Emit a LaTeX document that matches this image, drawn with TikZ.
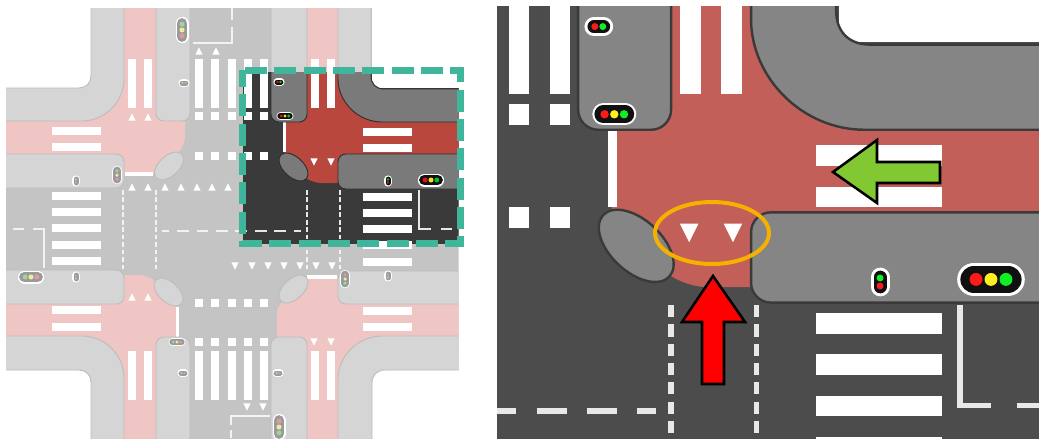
\documentclass[tikz,border=0pt]{standalone}
\usepackage{xcolor}
\usepackage{tikz}
\definecolor{figTeal}{HTML}{3FB59B}
\definecolor{figAmber}{HTML}{F5B000}
\definecolor{figLeaf}{HTML}{82C832}
\definecolor{figArrowRed}{HTML}{FF0000}

% one signal head with three lights: x, y, rotation, size, first colour, last colour
\newcommand{\biglamp}[6]{%
  \begin{scope}[shift={(#1,#2)},rotate=#3,scale=#4]
    \draw[line cap=round, white, line width=#4*\sc*9.75pt] (-6.6,0) -- (6.6,0);
    \draw[line cap=round, lampCol, line width=#4*\sc*7.9pt] (-6.6,0) -- (6.6,0);
    \fill[#5] (-5.8,0) circle (2.5);
    \fill[lampYel] (0,0) circle (2.5);
    \fill[#6] (5.8,0) circle (2.5);
  \end{scope}}
% one signal head with two lights: x, y, rotation, first colour, last colour
\newcommand{\smalllamp}[5]{%
  \begin{scope}[shift={(#1,#2)},rotate=#3]
    \draw[line cap=round, white, line width=\sc*5.5pt] (-1.9,0) -- (1.9,0);
    \draw[line cap=round, lampCol, line width=\sc*3.75pt] (-1.9,0) -- (1.9,0);
    \fill[#4] (-1.55,0) circle (1.35);
    \fill[#5] (1.55,0) circle (1.35);
  \end{scope}}

% the whole crossing, in pixels of the left panel
\newcommand{\junction}{%
  % === Asphalt ===
  \fill[roadCol] (91,-20) rectangle (372,460);
  \fill[roadCol] (-20,88) rectangle (480,370);

  % === Red surface, one piece per corner ===
  \fill[redCol] (110,-20) -- (156,-20) -- (156,100) -- (170,100) -- (170,115) -- (185,115) -- (185,135)
    .. controls (185,148) and (176,156) .. (166,165) -- (153,174) -- (115,174) -- (115,154) -- (-20,154)
    -- (-20,110) -- (90,105) -- (110,85) -- cycle;
  \fill[redCol] (307,-20) -- (352,-20) -- (352,85) -- (372,105) -- (480,110) -- (480,154)
    -- (350,154) -- (350,183) -- (322,183) .. controls (314,183) and (308,180) .. (300,174)
    -- (284,155) -- (284,108) -- (307,108) -- cycle;
  \fill[redCol] (110,275) -- (138,275) .. controls (146,275) and (151,278) .. (157,283) -- (177,306)
    -- (177,350) -- (156,350) -- (156,460) -- (110,460) -- (110,372) -- (90,352) -- (-20,350)
    -- (-20,304) -- (110,304) -- cycle;
  \fill[redCol] (307,277) -- (350,277) -- (350,304) -- (480,304) -- (480,350) -- (372,352) -- (352,372)
    -- (352,460) -- (307,460) -- (307,350) -- (295,350) -- (277,337) -- (277,310)
    -- (285,296) -- cycle;

  % === Markings ===
  \foreach \yy in {127,143,192,208,224,241,257,306,323} \fill[paint] (52,\yy) rectangle (101,\yy+8);
  \foreach \yy in {128,144,193,209,225,241,258,307,323} \fill[paint] (363,\yy) rectangle (412,\yy+8);
  \foreach \xx in {128,144,195,211,228,244,260,310.5,326.5} \fill[paint] (\xx,59) rectangle (\xx+8,108);
  \foreach \xx in {128,144,195,211,228,244,260,311,327} \fill[paint] (\xx,351) rectangle (\xx+8,400);
  \foreach \xx in {195,211,228,244,260} {
    \foreach \yy in {112,152,299,338} \fill[paint] (\xx,\yy) rectangle (\xx+8,\yy+8);
  }
  % give-way triangles
  \foreach \xx/\yy in {132/117,148/117,199/51,216/51,132/297,148/297,132/187,148/187,165/187,181/187,197/187,212/187,228/187}
    \fill[paint] (\xx-3.6,\yy+3.6) -- (\xx+3.6,\yy+3.6) -- (\xx,\yy-3.6) -- cycle;
  \foreach \xx/\yy in {314/162,331/162,314/342,331/342,247/407,263/407,235/266,252/266,268/266,284/266,300/266,316/266,332/266}
    \fill[paint] (\xx-3.6,\yy-3.6) -- (\xx+3.6,\yy-3.6) -- (\xx,\yy+3.6) -- cycle;
  % lane lines
  \foreach \xx in {123,156,307,340} \draw[lane, dash pattern=on \sc*3.5pt off \sc*2.1pt] (\xx,190) -- (\xx,270);
  \draw[lane, dash pattern=on \sc*8.7pt off \sc*5.9pt, dash phase=\sc*3.3pt] (162,231) -- (301,231);
  \draw[lane] (44,268) -- (44,229) -- (33,229);
  \draw[lane] (24,229) -- (13,229);
  \draw[lane] (419,190) -- (419,229) -- (431,229);
  \draw[lane] (441,229) -- (452,229);
  \draw[lane] (193,43) -- (232,43) -- (232,27);
  \draw[lane] (232,20) -- (232,8);
  \draw[lane] (270,416) -- (231,416) -- (231,425);
  \draw[lane] (231,430) -- (231,438);
  % stop bars
  \draw[stopbar] (125,174) -- (153,174);
  \draw[stopbar] (284.3,122) -- (284.3,152);
  \draw[stopbar] (177.5,307) -- (177.5,337);
  \draw[stopbar] (307,277) -- (337,277);

  % === Kerbs ===
  \draw[walk] (91,-20) -- (91,76) .. controls (91,83) and (86,88) .. (79,88) -- (-20,88) -- (-20,121)
    -- (82,121) .. controls (105,121) and (124,102) .. (124,79) -- (124,-20) -- cycle;
  \draw[walk] (371,-20) -- (371,76) .. controls (371,84) and (376,89) .. (384,89) -- (480,89) -- (480,122)
    -- (382,122) .. controls (358,122) and (338,102) .. (338,79) -- (338,-20) -- cycle;
  \draw[walk] (-20,336) -- (82,336) .. controls (105,336) and (124,355) .. (124,378) -- (124,460)
    -- (91,460) -- (91,382) .. controls (91,375) and (86,370) .. (79,370) -- (-20,370) -- cycle;
  \draw[walk] (480,336) -- (382,336) .. controls (358,336) and (338,356) .. (338,379) -- (338,460)
    -- (372,460) -- (372,383) .. controls (372,375) and (377,370) .. (385,370) -- (480,370) -- cycle;
  % medians
  \draw[walk, median] (156,-20) rectangle (190,121);
  \draw[walk, median] (271,-20) rectangle (307,122);
  \draw[walk, median] (-20,154) rectangle (124,188);
  \draw[walk, median] (-20,270) rectangle (124,304);
  \draw[walk, median] (338,154) rectangle (480,189);
  \draw[walk, median] (338,271) rectangle (480,304);
  \draw[walk, median] (156,337) rectangle (190,460);
  \draw[walk, median] (271,337) rectangle (307,460);
  % corner islands
  \draw[walk] (169,166) ellipse [x radius=17.5, y radius=10, rotate=43];
  \draw[walk] (293.5,167) ellipse [x radius=17.5, y radius=10, rotate=-43];
  \draw[walk] (168.5,292) ellipse [x radius=17.5, y radius=10, rotate=-43];
  \draw[walk] (293.5,289) ellipse [x radius=17.5, y radius=10, rotate=43];

  % === Signals ===
  \biglamp{182}{30}{90}{1}{lampRed}{lampGrn}
  \biglamp{117}{175}{90}{0.7}{lampRed}{lampGrn}
  \biglamp{31}{277}{0}{1}{lampGrn}{lampRed}
  \biglamp{177}{342}{0}{0.65}{lampGrn}{lampRed}
  \biglamp{285}{116}{0}{0.65}{lampRed}{lampGrn}
  \biglamp{431}{180}{0}{1}{lampRed}{lampGrn}
  \biglamp{345}{279}{90}{0.7}{lampGrn}{lampRed}
  \biglamp{279}{427}{90}{1}{lampGrn}{lampRed}
  \smalllamp{184}{83}{0}{lampGrn}{lampRed}
  \smalllamp{76}{181}{90}{lampRed}{lampGrn}
  \smalllamp{76}{277}{90}{lampGrn}{lampRed}
  \smalllamp{183}{373}{0}{lampGrn}{lampRed}
  \smalllamp{279}{82}{0}{lampRed}{lampGrn}
  \smalllamp{388}{181}{90}{lampRed}{lampGrn}
  \smalllamp{388}{276}{90}{lampGrn}{lampRed}
  \smalllamp{278}{373}{0}{lampGrn}{lampRed}
}

\begin{document}
\begin{tikzpicture}[
  x=0.75pt, y=-0.75pt,
  walk/.style={fill=walkCol, draw=edgeCol, line width=\sc*0.7pt},
  median/.style={rounded corners=\sc*5.8pt},
  paint/.style={fill=white},
  lane/.style={draw=laneCol, line width=\sc*1.5pt},
  stopbar/.style={draw=white, line width=\sc*2.6pt},
  bigarrow/.style={draw=black, line width=1.9pt, miter limit=10},
]
\useasboundingbox (0,0) rectangle (1039,439);
\fill[white] (0,0) rectangle (1039,439);
\def\sc{1}

% === Left panel: washed-out crossing ===
\begin{scope}
  \definecolor{roadCol}{HTML}{C4C4C4}
  \definecolor{redCol}{HTML}{EFC6C4}
  \definecolor{walkCol}{HTML}{D5D5D5}
  \definecolor{edgeCol}{HTML}{BDBDBD}
  \definecolor{laneCol}{HTML}{F2F2F2}
  \definecolor{lampCol}{HTML}{9A9A9A}
  \definecolor{lampRed}{HTML}{E29A9A}
  \definecolor{lampYel}{HTML}{EDED9F}
  \definecolor{lampGrn}{HTML}{9FD39F}
  \clip (6,8) rectangle (458.5,439);
  \junction
\end{scope}

% === Left panel: dark part inside the frame ===
\begin{scope}
  \definecolor{roadCol}{HTML}{3A3A3A}
  \definecolor{redCol}{HTML}{B9473E}
  \definecolor{walkCol}{HTML}{7A7A7A}
  \definecolor{edgeCol}{HTML}{2E2E2E}
  \definecolor{laneCol}{HTML}{E6E6E6}
  \definecolor{lampCol}{HTML}{101010}
  \definecolor{lampRed}{HTML}{E01010}
  \definecolor{lampYel}{HTML}{F5E020}
  \definecolor{lampGrn}{HTML}{10C020}
  \clip (243,72) rectangle (458.5,243);
  \junction
\end{scope}
\draw[figTeal, line width=5.25pt, dash pattern=on 16.5pt off 5.5pt] (245,70) -- (460,70) -- (460,243.5) -- (242.5,243.5) -- (242.5,70);

% === Right panel: enlarged crossing ===
\begin{scope}
  \definecolor{roadCol}{HTML}{4C4C4C}
  \definecolor{redCol}{HTML}{C15F58}
  \definecolor{walkCol}{HTML}{858585}
  \definecolor{edgeCol}{HTML}{3A3A3A}
  \definecolor{laneCol}{HTML}{E8E8E8}
  \definecolor{lampCol}{HTML}{101010}
  \definecolor{lampRed}{HTML}{FF1A1A}
  \definecolor{lampYel}{HTML}{FFEE22}
  \definecolor{lampGrn}{HTML}{11EE22}
  \clip (497,6) rectangle (1039,439);
  \begin{scope}[shift={(-121,-185)}, scale=2.58]
    \def\sc{2.58}
    \junction
  \end{scope}
\end{scope}

% === Right panel: highlights ===
\draw[figAmber, line width=3pt] (712,233) ellipse [x radius=57, y radius=31];
\draw[bigarrow, fill=figLeaf] (833,172) -- (877,140) -- (877,162) -- (940,162) -- (940,183) -- (877,183) -- (877,203) -- cycle;
\draw[bigarrow, fill=figArrowRed] (713,276) -- (745,322) -- (724,322) -- (724,384) -- (702,384) -- (702,322) -- (682,322) -- cycle;

\end{tikzpicture}
\end{document}
